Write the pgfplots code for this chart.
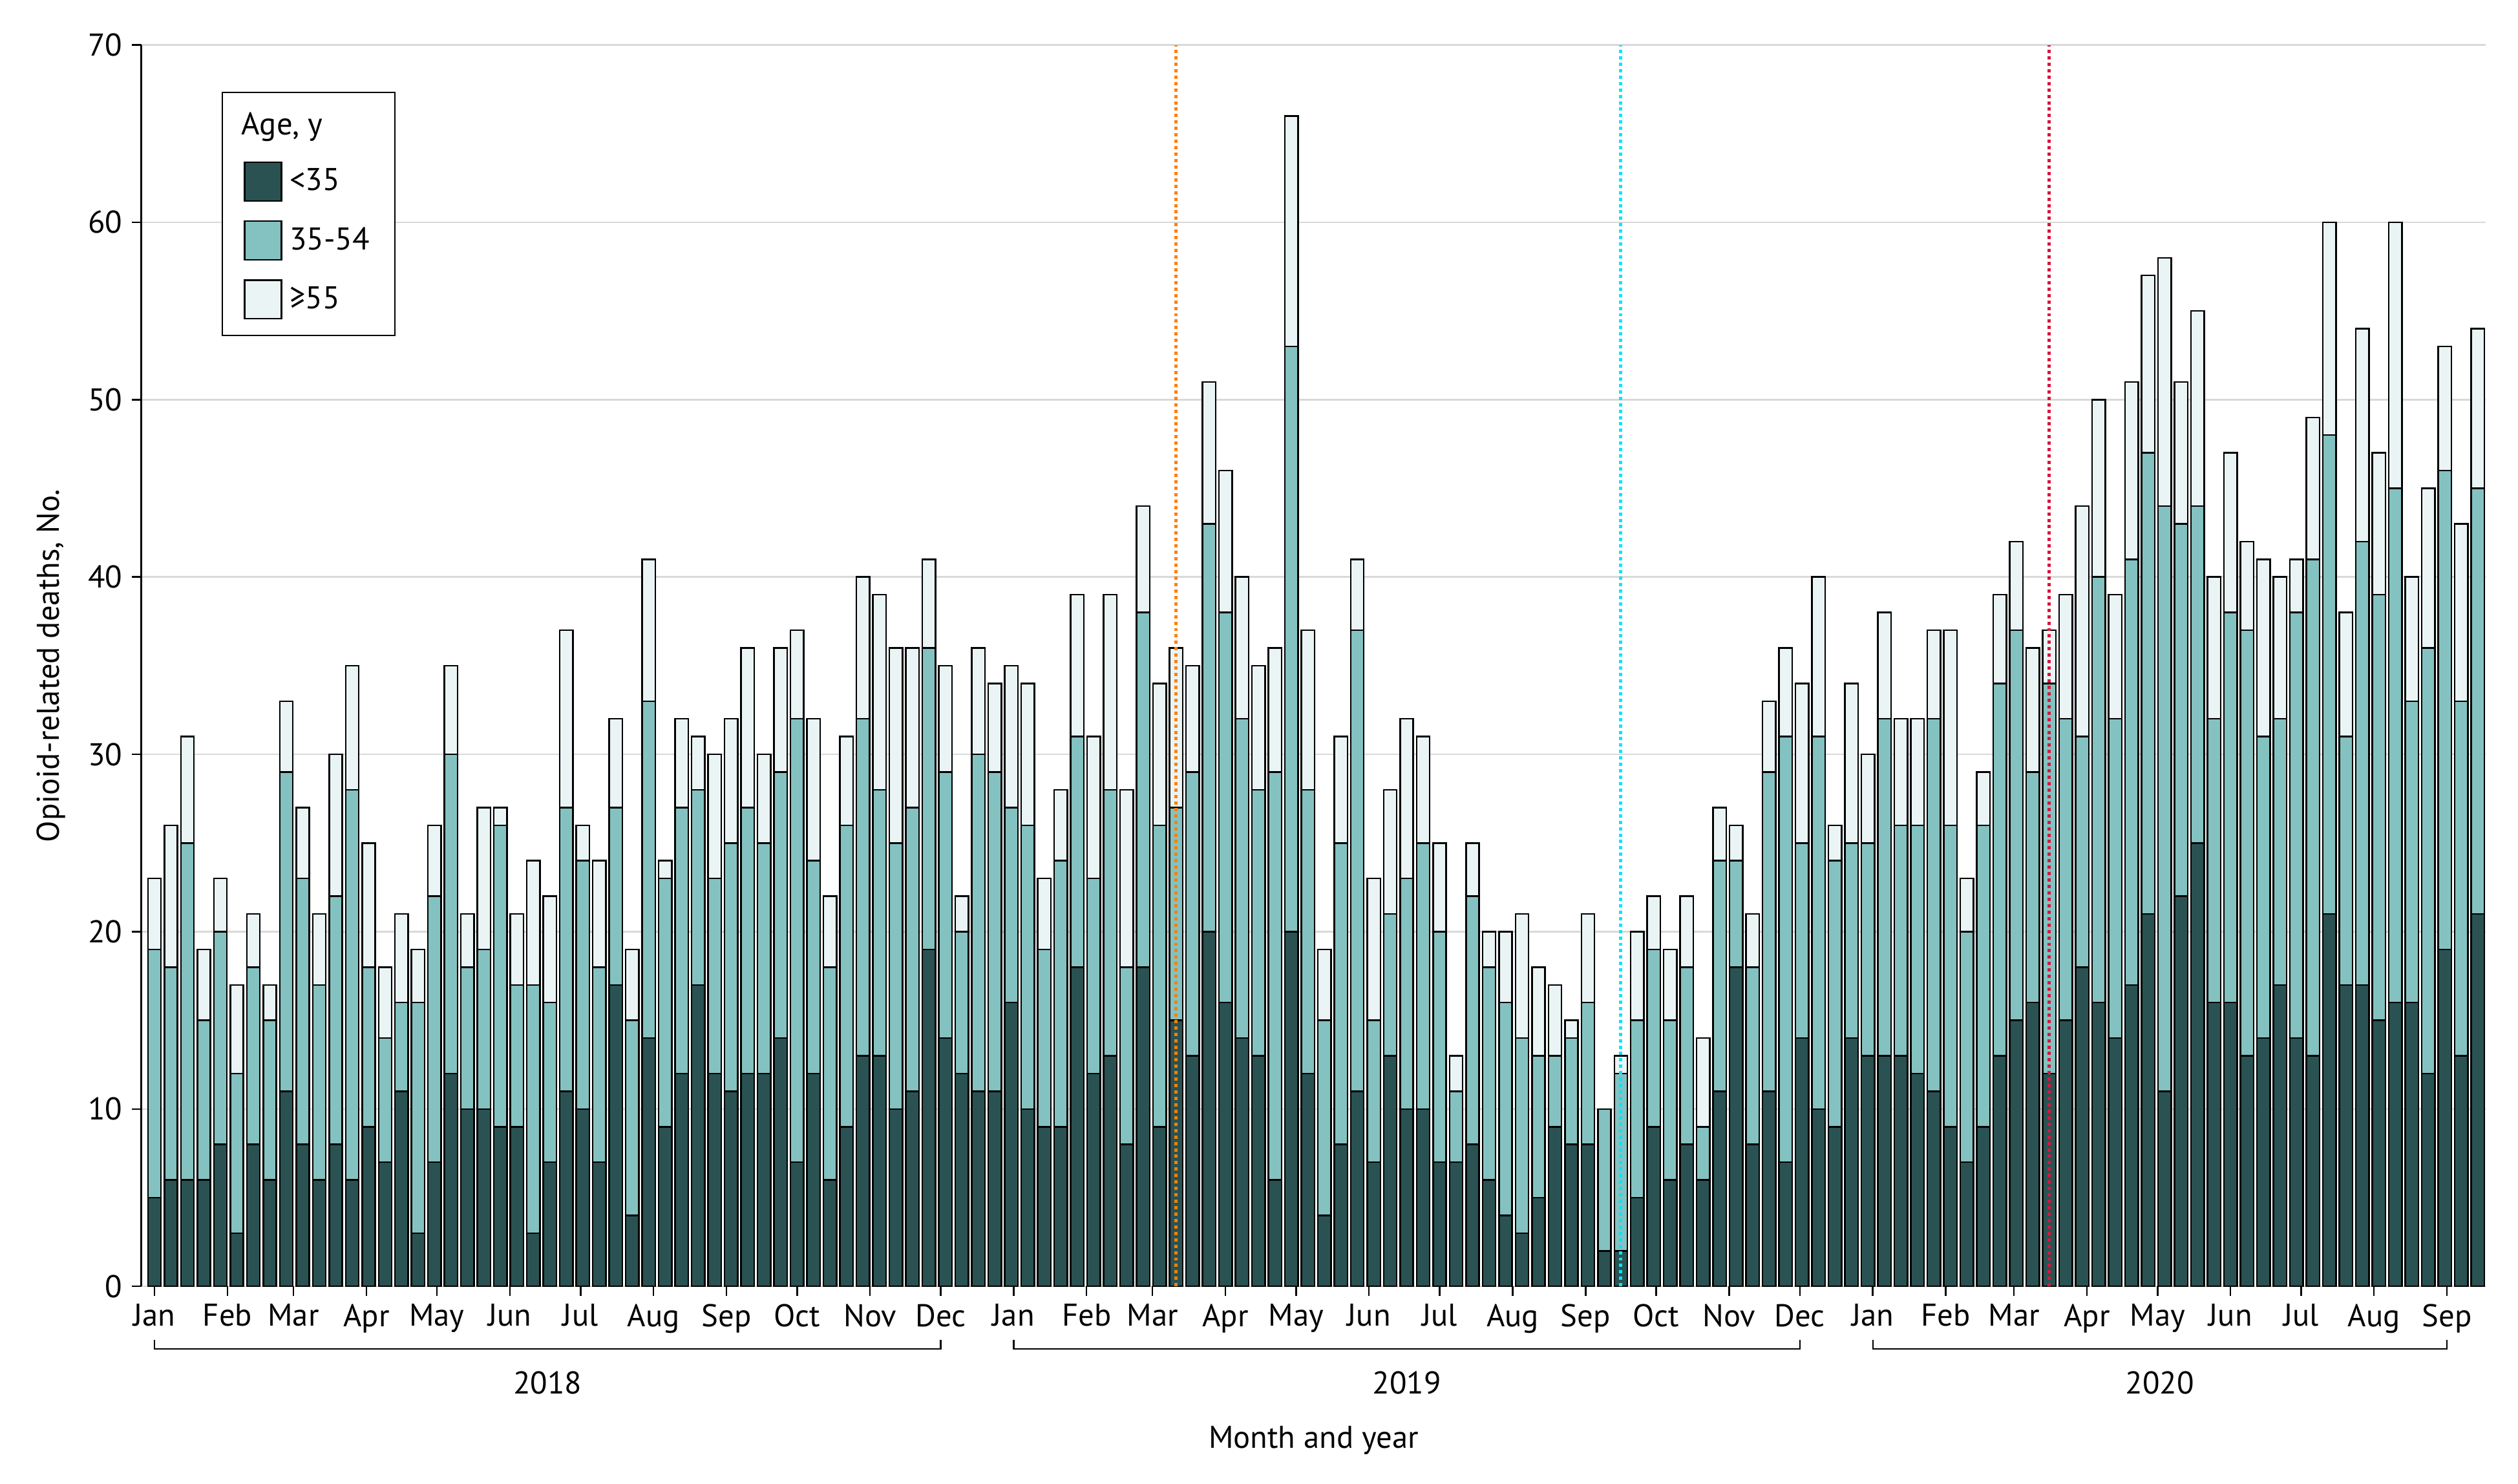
\documentclass[border=0pt]{standalone}
\usepackage{pgfplots}
\pgfplotsset{compat=1.18}
\usepackage{pgfplotstable}
\usepackage{fontspec}
\setmainfont{PT Sans}
\definecolor{darkteal}{HTML}{2A5252}
\definecolor{midteal}{HTML}{84C2C1}
\definecolor{lightteal}{HTML}{EAF4F5}
\definecolor{gridgray}{HTML}{D9D9D9}
\definecolor{lineorange}{HTML}{FF8000}
\definecolor{linecyan}{HTML}{00E5FF}
\definecolor{linered}{HTML}{DC143C}
\pgfplotstableread{
x a b c
0 5 14 4
1 6 12 8
2 6 19 6
3 6 9 4
4 8 12 3
5 3 9 5
6 8 10 3
7 6 9 2
8 11 18 4
9 8 15 4
10 6 11 4
11 8 14 8
12 6 22 7
13 9 9 7
14 7 7 4
15 11 5 5
16 3 13 3
17 7 15 4
18 12 18 5
19 10 8 3
20 10 9 8
21 9 17 1
22 9 8 4
23 3 14 7
24 7 9 6
25 11 16 10
26 10 14 2
27 7 11 6
28 17 10 5
29 4 11 4
30 14 19 8
31 9 14 1
32 12 15 5
33 17 11 3
34 12 11 7
35 11 14 7
36 12 15 9
37 12 13 5
38 14 15 7
39 7 25 5
40 12 12 8
41 6 12 4
42 9 17 5
43 13 19 8
44 13 15 11
45 10 15 11
46 11 16 9
47 19 17 5
48 14 15 6
49 12 8 2
50 11 19 6
51 11 18 5
52 16 11 8
53 10 16 8
54 9 10 4
55 9 15 4
56 18 13 8
57 12 11 8
58 13 15 11
59 8 10 10
60 18 20 6
61 9 17 8
62 15 12 9
63 13 16 6
64 20 23 8
65 16 22 8
66 14 18 8
67 13 15 7
68 6 23 7
69 20 33 13
70 12 16 9
71 4 11 4
72 8 17 6
73 11 26 4
74 7 8 8
75 13 8 7
76 10 13 9
77 10 15 6
78 7 13 5
79 7 4 2
80 8 14 3
81 6 12 2
82 4 12 4
83 3 11 7
84 5 8 5
85 9 4 4
86 8 6 1
87 8 8 5
88 2 8 0
89 2 10 1
90 5 10 5
91 9 10 3
92 6 9 4
93 8 10 4
94 6 3 5
95 11 13 3
96 18 6 2
97 8 10 3
98 11 18 4
99 7 24 5
100 14 11 9
101 10 21 9
102 9 15 2
103 14 11 9
104 13 12 5
105 13 19 6
106 13 13 6
107 12 14 6
108 11 21 5
109 9 17 11
110 7 13 3
111 9 17 3
112 13 21 5
113 15 22 5
114 16 13 7
115 12 22 3
116 15 17 7
117 18 13 13
118 16 24 10
119 14 18 7
120 17 24 10
121 21 26 10
122 11 33 14
123 22 21 8
124 25 19 11
125 16 16 8
126 16 22 9
127 13 24 5
128 14 17 10
129 17 15 8
130 14 24 3
131 13 28 8
132 21 27 12
133 17 14 7
134 17 25 12
135 15 24 8
136 16 29 15
137 16 17 7
138 12 24 9
139 19 27 7
140 13 20 10
141 21 24 9
}\deaths
\begin{document}
\begin{tikzpicture}[font=\fontsize{11.8}{14}\selectfont]
\begin{axis}[
  at={(0,0)}, anchor=south west,
  scale only axis, width=876bp, height=463.8bp,
  ybar stacked, bar width=0.8,
  xmin=-0.8, xmax=141.5, ymin=0, ymax=70,
  enlargelimits=false,
  ytick={0,10,...,70},
  ymajorgrids, grid style={draw=gridgray, line width=0.6bp},
  axis x line*=bottom, axis y line*=left,
  x axis line style={draw=none},
  y axis line style={line width=0.8bp},
  tick align=outside, major tick length=3.6bp,
  tick style={black, line width=0.6bp},
  xtick={0,4.43,8.43,12.86,17.14,21.57,25.86,30.29,34.71,39,43.43,47.71,
         52.14,56.57,60.57,65,69.29,73.71,78,82.43,86.86,91.14,95.57,99.86,
         104.29,108.71,112.86,117.29,121.57,126,130.29,134.71,139.14},
  xticklabels={Jan,Feb,Mar,Apr,May,Jun,Jul,Aug,Sep,Oct,Nov,Dec,
               Jan,Feb,Mar,Apr,May,Jun,Jul,Aug,Sep,Oct,Nov,Dec,
               Jan,Feb,Mar,Apr,May,Jun,Jul,Aug,Sep},
  xticklabel style={yshift=0.5bp},
  /pgf/number format/assume math mode=true,
  ylabel={Opioid-related deaths, No.},
  ylabel style={at={(axis description cs:-0.0384,0.5)}, anchor=center},
  legend cell align=left,
  legend image code/.code={\draw[#1, line width=0.6bp] (0bp,-7.2bp) rectangle (13.8bp,7.2bp); \path (15bp,0bp);},
  legend style={at={(0.03425,0.9625)}, anchor=north west, draw=black,
    line width=0.6bp, fill=white, inner xsep=8bp, inner ysep=6bp, row sep=7bp,
    nodes={inner sep=1.5bp},
    font=\fontsize{11.8}{14}\selectfont},
  clip=false,
]
\addlegendimage{empty legend}
\addlegendentry{\hspace*{-17.9bp}Age, y}
\addplot[fill=darkteal, draw=black, line width=0.6bp] table[x=x, y=a]{\deaths};
\addlegendentry{<35}
\addplot[fill=midteal, draw=black, line width=0.6bp] table[x=x, y=b]{\deaths};
\addlegendentry{35-54}
\addplot[fill=lightteal, draw=black, line width=0.6bp] table[x=x, y=c]{\deaths};
\addlegendentry{≥55}
\end{axis}
\begin{axis}[
  at={(0,0)}, anchor=south west,
  scale only axis, width=876bp, height=463.8bp,
  xmin=-0.8, xmax=141.5, ymin=0, ymax=70,
  enlargelimits=false, hide axis, clip=false,
]
\addplot[lineorange, line width=1.2bp, dash pattern=on 1.2bp off 1.2bp] coordinates {(62,0) (62,70)};
\addplot[linecyan, line width=1.2bp, dash pattern=on 1.2bp off 1.2bp] coordinates {(89,0) (89,70)};
\addplot[linered, line width=1.2bp, dash pattern=on 1.2bp off 1.2bp] coordinates {(115,0) (115,70)};
\addplot[black, line width=0.6bp] coordinates {(0,-3.0) (0,-3.53) (47.71,-3.53) (47.71,-3.0)};
\addplot[black, line width=0.6bp] coordinates {(52.14,-3.0) (52.14,-3.53) (99.86,-3.53) (99.86,-3.0)};
\addplot[black, line width=0.6bp] coordinates {(104.29,-3.0) (104.29,-3.53) (139.14,-3.53) (139.14,-3.0)};
\node at (axis cs:23.86,-5.43) {2018};
\node at (axis cs:76,-5.43) {2019};
\node at (axis cs:121.7,-5.43) {2020};
\node at (axis cs:70.35,-8.69) {Month and year};
\end{axis}
\pgfresetboundingbox
\path (-52.8bp,-73.8bp) rectangle (888bp,480.6bp);
\end{tikzpicture}
\end{document}
